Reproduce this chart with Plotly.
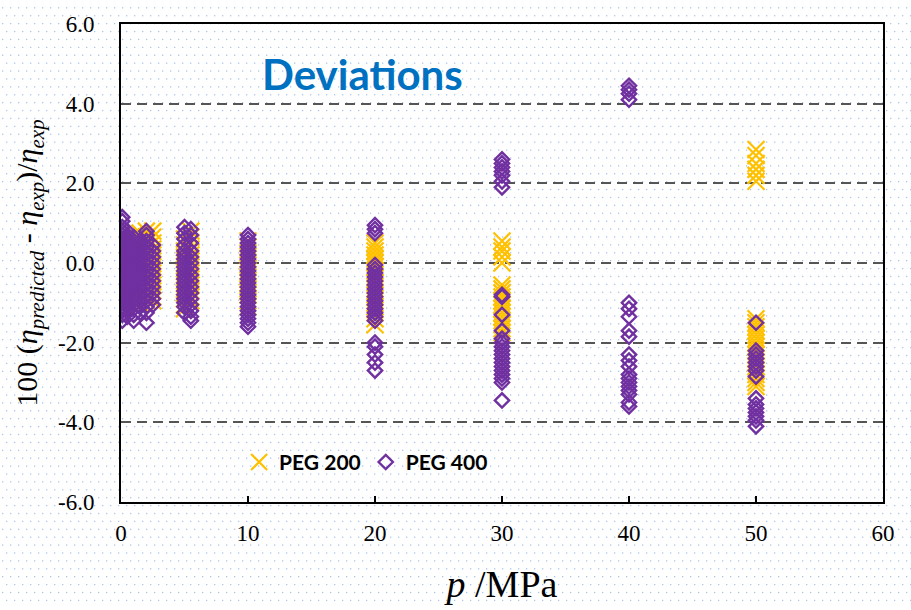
import base64
import plotly.graph_objects as go

# Pressure levels (MPa) and the relative deviations measured at each level
PEG200_PRESSURES = [0.1, 0.5, 1.0, 1.5, 2.0, 2.5, 5.0, 5.5, 10.0, 20.0, 30.0, 50.0]
PEG200_DEVIATIONS = [
    [0.55, 0.4, 0.25, 0.1, -0.05, -0.2, -0.35, -0.5, -0.65, -0.8, -0.95, -1.05],
    [0.6, 0.45, 0.3, 0.15, 0.0, -0.15, -0.3, -0.45, -0.6, -0.75, -0.9, -1.0],
    [0.7, 0.55, 0.4, 0.25, 0.1, -0.05, -0.2, -0.35, -0.5, -0.65, -0.8, -0.95],
    [0.75, 0.6, 0.45, 0.3, 0.15, 0.0, -0.15, -0.3, -0.45, -0.6, -0.75, -0.9, -1.0],
    [0.8, 0.65, 0.5, 0.35, 0.2, 0.05, -0.1, -0.25, -0.4, -0.55, -0.7, -0.85, -0.95],
    [0.8, 0.65, 0.5, 0.35, 0.2, 0.05, -0.1, -0.25, -0.4, -0.55, -0.7, -0.85, -0.95],
    [0.6, 0.45, 0.3, 0.15, 0.0, -0.15, -0.3, -0.45, -0.6, -0.75, -0.9, -1.05, -1.15],
    [0.8, 0.65, 0.5, 0.35, 0.2, 0.05, -0.1, -0.25, -0.4, -0.55, -0.7, -0.85, -0.95],
    [0.55, 0.4, 0.25, 0.1, -0.05, -0.2, -0.35, -0.5, -0.65, -0.8, -0.95, -1.1],
    [0.5, 0.4, 0.3, 0.2, 0.1, 0.0, -0.1, -0.2, -0.35, -0.5, -0.65, -0.8, -0.95, -1.1,
     -1.25, -1.4, -1.55],
    [0.55, 0.4, 0.3, 0.15, 0.0, -0.55, -0.65, -0.75, -0.85, -0.95, -1.05, -1.15, -1.25,
     -1.35, -1.45, -1.55, -1.65, -1.75],
    [2.85, 2.7, 2.5, 2.35, 2.2, 2.05, -1.4, -1.5, -1.6, -1.7, -1.8, -1.9, -2.0, -2.1,
     -2.2, -2.3, -2.4, -2.5, -2.6, -2.7, -2.8, -2.9, -3.0, -3.1],
]

PEG400_PRESSURES = [0.1, 0.5, 1.0, 1.5, 2.0, 2.5, 5.0, 5.5, 10.0, 20.0, 30.0, 40.0, 50.0]
PEG400_DEVIATIONS = [
    [1.15, 1.05, 0.9, 0.8, 0.7, 0.6, 0.5, 0.4, 0.3, 0.2, 0.1, 0.0, -0.1, -0.2, -0.3,
     -0.4, -0.5, -0.6, -0.7, -0.8, -0.9, -1.0, -1.1, -1.2, -1.3, -1.45],
    [0.8, 0.7, 0.6, 0.5, 0.4, 0.3, 0.2, 0.1, 0.0, -0.1, -0.2, -0.3, -0.4, -0.5, -0.6,
     -0.7, -0.8, -0.9, -1.0, -1.1, -1.2, -1.35],
    [0.65, 0.55, 0.45, 0.35, 0.25, 0.15, 0.05, -0.05, -0.15, -0.25, -0.35, -0.45, -0.55,
     -0.65, -0.75, -0.85, -0.95, -1.05, -1.15, -1.3, -1.45],
    [0.55, 0.45, 0.35, 0.25, 0.15, 0.05, -0.05, -0.15, -0.25, -0.35, -0.45, -0.55, -0.65,
     -0.8, -0.95, -1.1, -1.25],
    [0.8, 0.7, 0.55, 0.4, 0.25, 0.1, -0.05, -0.2, -0.35, -0.5, -0.65, -0.8, -0.95, -1.1,
     -1.25, -1.5],
    [0.45, 0.3, 0.15, 0.0, -0.15, -0.3, -0.45, -0.6, -0.75, -0.9, -1.05],
    [0.9, 0.75, 0.6, 0.45, 0.3, 0.2, 0.1, 0.0, -0.1, -0.2, -0.3, -0.4, -0.5, -0.6, -0.7,
     -0.8, -0.9, -1.0, -1.1, -1.25],
    [0.85, 0.7, 0.5, 0.3, 0.15, 0.0, -0.15, -0.3, -0.45, -0.6, -0.75, -0.9, -1.05, -1.2,
     -1.35, -1.45],
    [0.7, 0.6, 0.5, 0.4, 0.3, 0.2, 0.1, 0.0, -0.1, -0.2, -0.3, -0.4, -0.5, -0.6, -0.7,
     -0.8, -0.9, -1.0, -1.1, -1.2, -1.3, -1.4, -1.5, -1.6],
    [0.95, 0.85, 0.75, -0.05, -0.15, -0.25, -0.35, -0.45, -0.55, -0.65, -0.75, -0.85,
     -0.95, -1.05, -1.15, -1.25, -1.35, -1.45, -2.0, -2.1, -2.3, -2.5, -2.7],
    [2.6, 2.5, 2.4, 2.3, 2.2, 2.05, 1.9, -0.8, -0.85, -1.3, -1.7, -1.9, -2.0, -2.1, -2.2,
     -2.3, -2.4, -2.5, -2.6, -2.7, -2.8, -2.9, -3.0, -3.45],
    [4.45, 4.35, 4.25, 4.1, -1.0, -1.15, -1.35, -1.7, -1.85, -2.3, -2.45, -2.6, -2.8,
     -2.9, -3.0, -3.1, -3.2, -3.3, -3.5, -3.6],
    [-1.5, -2.2, -2.3, -2.4, -2.5, -2.6, -2.7, -2.85, -3.4, -3.55, -3.65, -3.75, -3.85,
     -3.95, -4.1],
]

X_TICKS = [0, 10, 20, 30, 40, 50, 60]
Y_TICKS = [6.0, 4.0, 2.0, 0.0, -2.0, -4.0, -6.0]

W, H = 911, 610
MARGIN = dict(l=121, r=28, t=19, b=107)


def flatten(pressures, groups):
    xs, ys = [], []
    for p, devs in zip(pressures, groups):
        xs.extend([p] * len(devs))
        ys.extend(devs)
    return xs, ys


x200, y200 = flatten(PEG200_PRESSURES, PEG200_DEVIATIONS)
x400, y400 = flatten(PEG400_PRESSURES, PEG400_DEVIATIONS)

fig = go.Figure()
fig.add_trace(go.Scatter(
    x=x200, y=y200, mode="markers", name="PEG 200",
    marker=dict(symbol="x-thin-open", size=17, color="#FFC000",
                line=dict(color="#FFC000", width=2.2)),
))
fig.add_trace(go.Scatter(
    x=x400, y=y400, mode="markers", name="PEG 400",
    marker=dict(symbol="diamond-open", size=11, color="#7030A0",
                line=dict(color="#7030A0", width=2.4)),
))

# Slide-style dotted backdrop
dots = []
step = 8
for j, yy in enumerate(range(2, H, step)):
    off = 0 if j % 2 == 0 else step // 2
    for xx in range(2 + off, W, step):
        dots.append(f'<rect x="{xx}" y="{yy}" width="1.3" height="1.3"/>')
svg = (f'<svg xmlns="http://www.w3.org/2000/svg" width="{W}" height="{H}" '
       f'viewBox="0 0 {W} {H}" preserveAspectRatio="none">'
       f'<rect width="{W}" height="{H}" fill="white"/>'
       f'<g fill="#a9c5ec">' + "".join(dots) + '</g></svg>')
src = "data:image/svg+xml;base64," + base64.b64encode(svg.encode()).decode()
pw = W - MARGIN["l"] - MARGIN["r"]
ph = H - MARGIN["t"] - MARGIN["b"]
fig.add_layout_image(dict(
    source=src, xref="paper", yref="paper",
    x=-MARGIN["l"] / pw, y=1 + MARGIN["t"] / ph,
    sizex=W / pw, sizey=H / ph, sizing="stretch",
    xanchor="left", yanchor="top", layer="below",
))

serif = "Liberation Serif, Times New Roman, serif"

fig.update_layout(
    width=W, height=H, margin=MARGIN,
    paper_bgcolor="white", plot_bgcolor="rgba(0,0,0,0)",
    showlegend=True,
    legend=dict(
        orientation="h", x=0.155, y=0.083, xanchor="left", yanchor="middle",
        bgcolor="rgba(0,0,0,0)", font=dict(family="Lato", size=21, color="black",
                                          weight="bold"),
        itemwidth=30, tracegroupgap=0,
    ),
    xaxis=dict(
        range=[0, 60], tickvals=X_TICKS, ticktext=[str(v) for v in X_TICKS],
        showgrid=False, zeroline=False,
        showline=True, linecolor="black", linewidth=2, mirror=True,
        ticks="inside", ticklen=6, tickwidth=1.5, tickcolor="black",
        tickfont=dict(family=serif, size=23, color="black"),
        ticklabelstandoff=9,
        title=dict(text="<i>p</i> /MPa", font=dict(family=serif, size=38, color="black"),
                   standoff=26),
    ),
    yaxis=dict(
        range=[-6, 6], tickvals=Y_TICKS, ticktext=[f"{v:.1f}" for v in Y_TICKS],
        showgrid=True, gridcolor="#555555", gridwidth=2, griddash="10px,6px",
        zeroline=False,
        showline=True, linecolor="black", linewidth=2, mirror=True,
        ticks="", tickfont=dict(family=serif, size=23, color="black"),
        ticklabelstandoff=20,
        title=dict(
            text="100 (<i>η</i><sub><i>predicted</i></sub> - <i>η</i><sub><i>exp</i></sub>)"
                 "/<i>η</i><sub><i>exp</i></sub>",
            font=dict(family=serif, size=30, color="black"), standoff=11),
    ),
    annotations=[dict(
        text="<b>Deviations</b>", xref="paper", yref="paper",
        x=(362 - MARGIN["l"]) / pw, y=1 - (70 - MARGIN["t"]) / ph,
        xanchor="center", yanchor="middle", showarrow=False,
        font=dict(family="Lato", size=42, color="#0070C0"),
    )],
)

fig.write_html("out.html")
